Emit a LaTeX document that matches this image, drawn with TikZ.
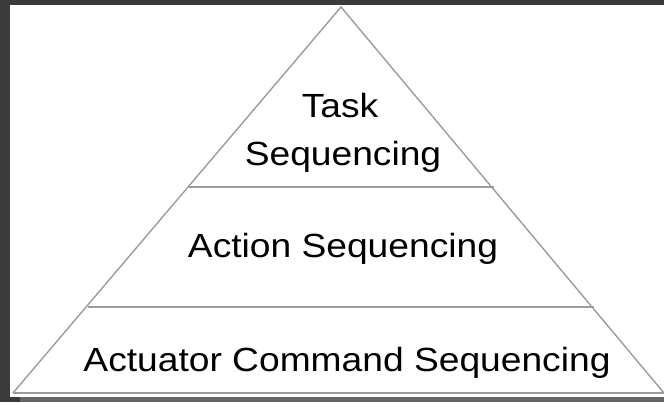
\documentclass[tikz,border=0pt]{standalone}
\usepackage{fontspec}
\setmainfont[FakeStretch=1.11]{Liberation Sans}
\definecolor{bgdark}{HTML}{3B3B3B}
\definecolor{bgstrip}{HTML}{666666}
\definecolor{edge}{HTML}{9C9C9C}
\begin{document}
\begin{tikzpicture}[x=1bp,y=-1bp,
  lbl/.style={anchor=base, inner sep=0pt, font=\fontsize{33.5bp}{48bp}\selectfont, text=black},
  tri/.style={draw=edge, line width=1.4bp, line join=miter}]
\useasboundingbox (0,0) rectangle (664,402);
\fill[bgdark] (0,0) rectangle (664,402);
\fill[bgstrip] (20,397) rectangle (664,402);
\fill[white] (10,5) rectangle (664,397);
\coordinate (apex) at (341,7);
\coordinate (bl) at (13,393);
\coordinate (br) at (664,393);
\coordinate (l1) at (188,187);
\coordinate (r1) at (494,187);
\coordinate (l2) at (88,307);
\coordinate (r2) at (594,307);
\draw[tri] (bl) -- (apex) -- (br);
\draw[tri] (bl) -- (br);
\draw[tri] (l1) -- (r1);
\draw[tri] (l2) -- (r2);
\node[lbl] (task) at (340,117) {Task};
\node[lbl] (tseq) at (343,165) {Sequencing};
\node[lbl] (act) at (343,257) {Action Sequencing};
\node[lbl] (actu) at (347,371) {Actuator Command Sequencing};
\end{tikzpicture}
\end{document}
